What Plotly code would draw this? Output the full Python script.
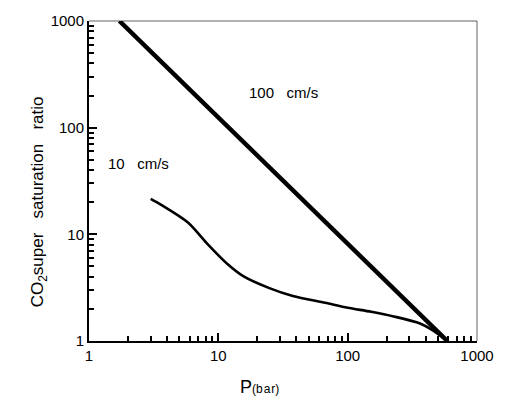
import plotly.graph_objects as go

# 100 cm/s : straight line in log-log space
p_100 = [1.72, 590]
s_100 = [1000, 1]

# 10 cm/s : measured curve
p_10 = [3.0, 3.64, 5.82, 8.26, 11.7, 15.7, 24.8, 37.7, 67.0, 100, 152, 227, 363, 456, 590]
s_10 = [21.5, 18.8, 12.9, 8.1, 5.3, 4.03, 3.13, 2.64, 2.28, 2.05, 1.88, 1.70, 1.46, 1.26, 1.0]

font = "Liberation Sans, Arial, Helvetica, sans-serif"

fig = go.Figure()
fig.add_trace(go.Scatter(x=p_100, y=s_100, mode="lines",
                         line=dict(color="black", width=4.5), showlegend=False))
fig.add_trace(go.Scatter(x=p_10, y=s_10, mode="lines",
                         line=dict(color="black", width=2.6, shape="spline", smoothing=0.8),
                         showlegend=False))

axis_common = dict(
    type="log",
    range=[0, 3],
    dtick=1,
    showline=True,
    linecolor="black",
    linewidth=2,
    ticks="inside",
    ticklen=8,
    tickwidth=2,
    tickcolor="#000000",
    minor=dict(ticks="inside", ticklen=5, tickwidth=1.5, tickcolor="#000000"),
)

fig.update_xaxes(**axis_common)
fig.update_yaxes(**axis_common)

# top and right edges of the frame
fig.add_shape(type="line", xref="paper", yref="paper", x0=0, y0=1, x1=1, y1=1,
              line=dict(color="black", width=2))
fig.add_shape(type="line", xref="paper", yref="paper", x0=1, y0=0, x1=1, y1=1,
              line=dict(color="black", width=2))

fig.add_annotation(x=0.44, y=-0.18, xref="paper", yref="paper", showarrow=False,
                   text="P<span style='font-size:12px'>(b\u200aa\u200ar)</span>",
                   font=dict(size=18))
fig.add_annotation(x=-0.162, y=0.434, xref="paper", yref="paper", showarrow=False,
                   textangle=-90,
                   text="CO<sub>2</sub>super\u00a0\u00a0 saturation\u00a0\u00a0 ratio",
                   font=dict(size=17))

fig.add_annotation(x=1.5, y=2.33, xref="x", yref="y", showarrow=False,
                   text="100\u00a0\u00a0 cm/s")
fig.add_annotation(x=0.386, y=1.66, xref="x", yref="y", showarrow=False,
                   text="10\u00a0\u00a0 cm/s")

fig.update_layout(
    template="simple_white",
    font=dict(family=font, size=15, color="black"),
    width=506, height=414,
    margin=dict(l=89, r=21, t=14, b=73),
)

fig.write_html("out.html")
